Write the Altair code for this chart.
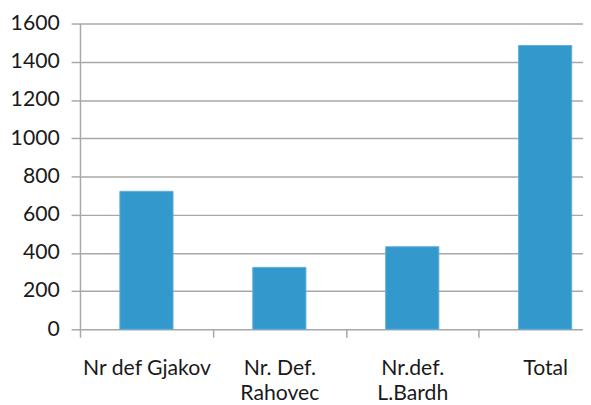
import altair as alt
import pandas as pd

categories = ["Nr def Gjakov", "Nr. Def.\nRahovec", "Nr.def.\nL.Bardh", "Total"]
values = [722, 324, 432, 1485]
y_ticks = [0, 200, 400, 600, 800, 1000, 1200, 1400, 1600]

df = pd.DataFrame({"category": categories, "value": values})

grid_col = "#A8A8A8"
text_col = "#1a1a1a"
font = "Lato"

chart = alt.Chart(df).mark_bar(
    color="#3399CC", stroke="#5FAEDB", strokeWidth=1,
    width=alt.RelativeBandSize(0.4)
).encode(
    x=alt.X("category:N", sort=categories,
            scale=alt.Scale(range=[0, 539], paddingInner=0, paddingOuter=0),
            axis=alt.Axis(title=None, labelAngle=0, tickBand="extent", domain=False,
                          grid=False, tickSize=8, tickColor=grid_col, tickWidth=1.5,
                          labelPadding=21, labelFont=font, labelFontSize=21.5,
                          labelColor=text_col, labelLineHeight=25,
                          labelExpr="split(datum.label, '\\n')")),
    y=alt.Y("value:Q", scale=alt.Scale(domain=[0, 1600], nice=False),
            axis=alt.Axis(title=None, values=y_ticks, format="d", grid=True,
                          gridColor=grid_col, gridWidth=1.5, domainColor=grid_col,
                          domainWidth=1.5, tickColor=grid_col, tickWidth=1.5, tickSize=9,
                          labelPadding=12, labelFont=font, labelFontSize=21.5,
                          labelColor=text_col))
).properties(
    width=510, height=310,
    autosize=alt.AutoSizeParams(type="none"),
    padding={"left": 73, "top": 13, "right": 0, "bottom": 74},
    background="white"
).configure_view(stroke=None)

chart.save("out.html", embed_options={"renderer": "svg", "actions": False})
